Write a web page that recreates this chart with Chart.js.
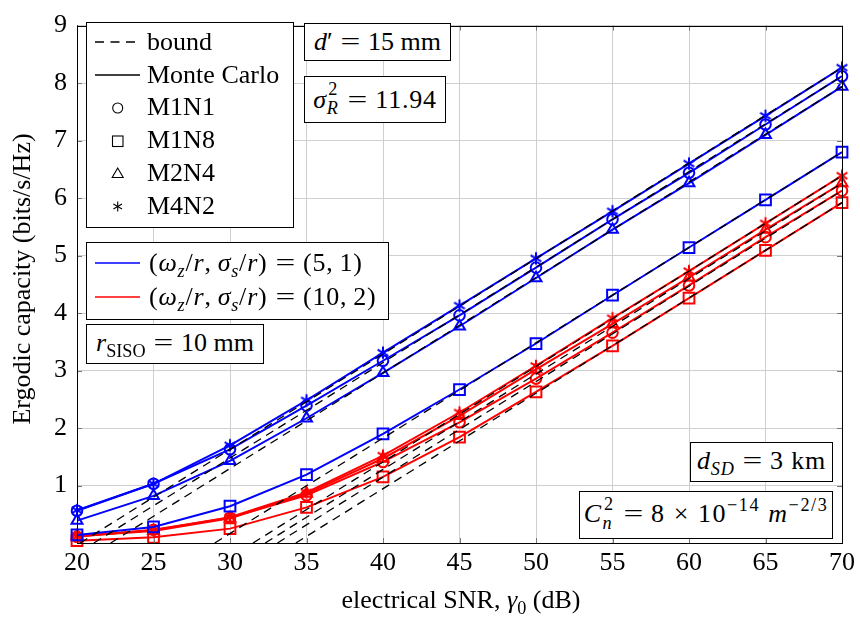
<!DOCTYPE html>
<html><head><meta charset="utf-8">
<script src="https://cdn.jsdelivr.net/npm/chart.js@4.4.0/dist/chart.umd.min.js"></script>
<style>
html,body{margin:0;padding:0;background:#fff;}
#wrap{position:relative;width:860px;height:617px;font-family:'Liberation Serif','Times New Roman',serif;color:#000;overflow:hidden;}
#c{position:absolute;left:0;top:0;}
.box{position:absolute;border:1px solid #000;background:#fff;box-sizing:border-box;display:flex;align-items:center;justify-content:center;font-size:26px;line-height:30px;white-space:nowrap;}
.t{position:absolute;white-space:nowrap;font-size:26px;line-height:30px;}
#sym{position:absolute;left:0;top:0;}
.sb{font-size:0.7em;position:relative;top:0.32em;}
.sp{font-size:0.7em;position:relative;top:-0.6em;}
.ss{display:inline-block;position:relative;width:0.5em;height:0.7em;}
.ss .u{position:absolute;left:0.08em;top:-0.5em;font-size:0.7em;line-height:1;}
.ss .d{position:absolute;left:0;top:0.55em;font-size:0.7em;line-height:1;}
.eq{display:inline-block;transform:scaleX(1.35);margin:0 0.4em;letter-spacing:0;}
.ls3{letter-spacing:0.03em;}
.ls6{letter-spacing:0.06em;}
</style></head>
<body>
<div id="wrap">
<canvas id="c" width="860" height="617"></canvas>

<div class="box" style="left:86px;top:22px;width:208px;height:206px;"></div>
<div class="box" style="left:304px;top:23px;width:147px;height:38px;"><span><i>d</i>′<span class="eq">=</span>15 mm</span></div>
<div class="box" style="left:304px;top:76px;width:142px;height:47px;"><span class="ls3"><i>σ</i><span class="ss"><span class="u">2</span><span class="d"><i>R</i></span></span><span class="eq">=</span>11.94</span></div>
<div class="box" style="left:86px;top:242px;width:303px;height:78px;"></div>
<div class="box" style="left:86px;top:324px;width:178px;height:40px;"><span><i>r</i><span class="sb">SISO</span><span class="eq">=</span>10 mm</span></div>
<div class="box" style="left:690px;top:442px;width:143px;height:40px;"><span class="ls3"><i>d</i><span class="sb"><i>SD</i></span><span class="eq">=</span>3 km</span></div>
<div class="box" style="left:579px;top:491px;width:254px;height:48px;"><span class="ls6"><i>C</i><span class="ss"><span class="u">2</span><span class="d"><i>n</i></span></span><span class="eq">=</span>8 × 10<span class="sp">−14</span> <i>m</i><span class="sp">−2/3</span></span></div>

<svg id="sym" width="860" height="617">
  <line x1="95" y1="42" x2="140" y2="42" stroke="#000" stroke-width="1.3" stroke-dasharray="9,6.5"/>
  <line x1="95" y1="75" x2="140" y2="75" stroke="#000" stroke-width="1.3"/>
  <circle cx="117.7" cy="108" r="5" fill="none" stroke="#000" stroke-width="1.1"/>
  <rect x="112.5" y="136" width="10.5" height="10.5" fill="none" stroke="#000" stroke-width="1.1"/>
  <polygon points="117.7,168 112.2,177.5 123.2,177.5" fill="none" stroke="#000" stroke-width="1.1"/>
  <g stroke="#000" stroke-width="1.1">
    <line x1="117.7" y1="201.5" x2="117.7" y2="211.5"/>
    <line x1="113.4" y1="204" x2="122" y2="209"/>
    <line x1="113.4" y1="209" x2="122" y2="204"/>
  </g>
  <line x1="95" y1="263" x2="140" y2="263" stroke="#0000ff" stroke-width="1.5"/>
  <line x1="95" y1="297" x2="140" y2="297" stroke="#ff0000" stroke-width="1.5"/>
</svg>

<div class="t" style="left:147px;top:27px;">bound</div>
<div class="t" style="left:147px;top:60px;">Monte Carlo</div>
<div class="t" style="left:147px;top:92px;">M1N1</div>
<div class="t" style="left:147px;top:125px;">M1N8</div>
<div class="t" style="left:147px;top:158px;">M2N4</div>
<div class="t" style="left:147px;top:191px;">M4N2</div>
<div class="t ls3" style="left:149px;top:248px;">(<i>ω</i><span class="sb"><i>z</i></span>/<i>r</i>,&thinsp;<i>σ</i><span class="sb"><i>s</i></span>/<i>r</i>)<span class="eq">=</span>(5,&thinsp;1)</div>
<div class="t ls3" style="left:149px;top:282px;">(<i>ω</i><span class="sb"><i>z</i></span>/<i>r</i>,&thinsp;<i>σ</i><span class="sb"><i>s</i></span>/<i>r</i>)<span class="eq">=</span>(10,&thinsp;2)</div>

<div class="t" style="left:77px;width:768px;top:585px;text-align:center;">electrical SNR, <i>γ</i><span class="sb">0</span> (dB)</div>
<div class="t" style="left:-242px;top:264px;width:528px;text-align:center;transform:rotate(-90deg);transform-origin:50% 50%;">Ergodic capacity (bits/s/Hz)</div>
</div>

<script>
// ---- data ----
const snr = [20, 25, 30, 35, 40, 45, 50, 55, 60, 65, 70];
const xTicks = [20, 25, 30, 35, 40, 45, 50, 55, 60, 65, 70];
const yTicks = [1, 2, 3, 4, 5, 6, 7, 8, 9];

// (omega_z/r, sigma_s/r) = (5,1)  -- Monte Carlo
const blueM1N1 = [0.56, 1.03, 1.63, 2.39, 3.17, 3.96, 4.79, 5.63, 6.44, 7.28, 8.12];
const blueM1N8 = [0.14, 0.28, 0.64, 1.19, 1.90, 2.67, 3.47, 4.31, 5.14, 5.97, 6.80];
const blueM2N4 = [0.39, 0.82, 1.43, 2.17, 2.96, 3.77, 4.61, 5.45, 6.26, 7.10, 7.94];
const blueM4N2 = [0.57, 1.03, 1.70, 2.48, 3.31, 4.13, 4.95, 5.77, 6.60, 7.43, 8.27];
// (omega_z/r, sigma_s/r) = (10,2) -- Monte Carlo
const redM1N1 = [0.11, 0.23, 0.44, 0.83, 1.41, 2.10, 2.86, 3.66, 4.48, 5.32, 6.13];
const redM1N8 = [0.04, 0.10, 0.25, 0.62, 1.15, 1.84, 2.63, 3.43, 4.26, 5.09, 5.92];
const redM2N4 = [0.12, 0.21, 0.43, 0.86, 1.47, 2.21, 3.02, 3.81, 4.62, 5.45, 6.26];
const redM4N2 = [0.12, 0.22, 0.45, 0.88, 1.52, 2.27, 3.08, 3.91, 4.73, 5.56, 6.39];

// bounds (straight dashed lines): SNR where each bound leaves the x axis, and its value at 70 dB
const boundOrder    = ['blueM1N1', 'blueM1N8', 'blueM2N4', 'blueM4N2', 'redM1N1', 'redM1N8', 'redM2N4', 'redM4N2'];
const boundStartSNR = [21.1, 29.0, 22.2, 20.2, 33.1, 34.3, 32.3, 31.5];
const boundEndSNR   = [70, 70, 70, 70, 70, 70, 70, 70];
const boundEndValue = [8.12, 6.80, 7.94, 8.27, 6.13, 5.92, 6.26, 6.39];

// ---- styling ----
const BLUE = '#0000ff', RED = '#ff0000';
function asterisk(color){
  const c = document.createElement('canvas'); c.width = 16; c.height = 16;
  const g = c.getContext('2d'); g.strokeStyle = color; g.lineWidth = 2;
  for (let k = 0; k < 3; k++){
    const a = Math.PI/2 + k*Math.PI/3, r = 6.2;
    g.beginPath(); g.moveTo(8 + r*Math.cos(a), 8 + r*Math.sin(a));
    g.lineTo(8 - r*Math.cos(a), 8 - r*Math.sin(a)); g.stroke();
  }
  return c;
}
const starBlue = asterisk(BLUE), starRed = asterisk(RED);

const mc = [
  {data: blueM1N1, color: BLUE, style: 'circle', r: 5.3},
  {data: blueM1N8, color: BLUE, style: 'rect', r: 7.6},
  {data: blueM2N4, color: BLUE, style: 'triangle', r: 6.3},
  {data: blueM4N2, color: BLUE, style: starBlue, r: 6},
  {data: redM1N1, color: RED, style: 'circle', r: 5.3},
  {data: redM1N8, color: RED, style: 'rect', r: 7.6},
  {data: redM2N4, color: RED, style: 'triangle', r: 6.3},
  {data: redM4N2, color: RED, style: starRed, r: 6}
];

const datasets = [];
boundOrder.forEach((name, i) => {
  datasets.push({
    label: 'bound ' + name,
    data: [{x: boundStartSNR[i], y: 0}, {x: boundEndSNR[i], y: boundEndValue[i]}],
    borderColor: '#000', borderWidth: 1.3, borderDash: [8.5, 6],
    pointRadius: 0, fill: false, tension: 0, order: 0
  });
});
mc.forEach((s, i) => {
  datasets.push({
    label: 'MC ' + boundOrder[i],
    data: snr.map((x, k) => ({x: x, y: s.data[k]})),
    borderColor: s.color, backgroundColor: 'rgba(0,0,0,0)',
    borderWidth: 2, pointStyle: s.style, pointRadius: s.r,
    pointBorderColor: s.color, pointBackgroundColor: 'rgba(0,0,0,0)', pointBorderWidth: 2,
    fill: false, tension: 0, clip: false, order: 1
  });
});

const framePlugin = {
  id: 'frame',
  afterDraw(chart){
    const {ctx, chartArea: a, scales} = chart;
    ctx.save();
    ctx.strokeStyle = '#777'; ctx.lineWidth = 1;
    xTicks.forEach(v => {
      const px = Math.round(scales.x.getPixelForValue(v)) + 0.5;
      ctx.beginPath(); ctx.moveTo(px, a.bottom); ctx.lineTo(px, a.bottom - 5);
      ctx.moveTo(px, a.top); ctx.lineTo(px, a.top + 5); ctx.stroke();
    });
    yTicks.forEach(v => {
      const py = Math.round(scales.y.getPixelForValue(v)) + 0.5;
      ctx.beginPath(); ctx.moveTo(a.left, py); ctx.lineTo(a.left + 5, py);
      ctx.moveTo(a.right, py); ctx.lineTo(a.right - 5, py); ctx.stroke();
    });
    ctx.strokeStyle = '#000';
    ctx.strokeRect(Math.round(a.left) + 0.5, Math.round(a.top) + 0.5, Math.round(a.right - a.left), Math.round(a.bottom - a.top));
    ctx.restore();
  }
};

Chart.defaults.font.family = "'Liberation Serif', 'Times New Roman', serif";
Chart.defaults.font.size = 26;
Chart.defaults.color = '#000';

new Chart(document.getElementById('c'), {
  type: 'line',
  data: {datasets},
  options: {
    responsive: false, animation: false,
    layout: {padding: {left: 0, right: 15, top: 15, bottom: 0}},
    plugins: {legend: {display: false}, tooltip: {enabled: false}},
    scales: {
      x: {
        type: 'linear', min: 20, max: 70,
        afterBuildTicks: s => { s.ticks = xTicks.map(v => ({value: v})); },
        ticks: {padding: 5, maxRotation: 0, autoSkip: false, font: {size: 26}},
        grid: {color: '#cfcfcf', lineWidth: 1, drawTicks: false},
        border: {display: true, color: '#000'},
        afterFit: s => { s.height = 74; }
      },
      y: {
        type: 'linear', min: 0, max: 9,
        afterBuildTicks: s => { s.ticks = [0].concat(yTicks).map(v => ({value: v})); },
        ticks: {padding: 10, autoSkip: false, font: {size: 26}, callback: v => (v === 0 ? '' : String(v))},
        grid: {color: '#cfcfcf', lineWidth: 1, drawTicks: false},
        border: {display: true, color: '#000'},
        afterFit: s => { s.width = 77; }
      }
    }
  },
  plugins: [framePlugin]
});
</script>
</body></html>
